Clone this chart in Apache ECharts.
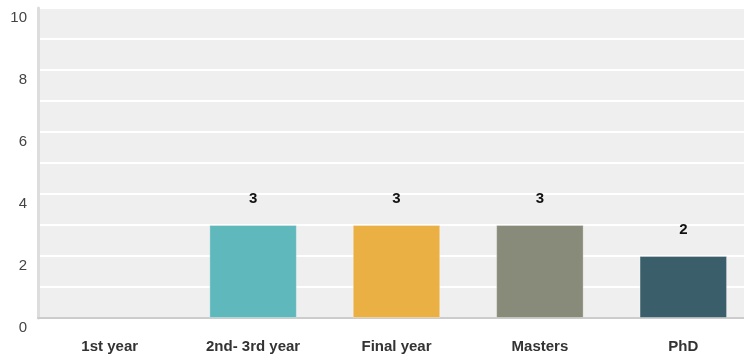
<!DOCTYPE html>
<html><head><meta charset="utf-8">
<script src="https://cdn.jsdelivr.net/npm/echarts@6/dist/echarts.min.js"></script>
<style>html,body{margin:0;padding:0;background:#fff;overflow:hidden;width:744px;height:360px}#c{width:755px;height:360px}</style>
</head><body><div id="c"></div>
<script>
var categories = ["1st year", "2nd- 3rd year", "Final year", "Masters", "PhD"];
var values = [0, 3, 3, 3, 2];
var colors = ["#5fb8bc", "#5fb8bc", "#ebb044", "#888a7a", "#3b5e6b"];
var yTicks = [0, 2, 4, 6, 8, 10];

var chart = echarts.init(document.getElementById('c'), null, {renderer: 'canvas'});
chart.setOption({
  animation: false,
  grid: {left: 38, right: 0, top: 8, bottom: 42, show: true, backgroundColor: '#efefef', borderWidth: 0},
  xAxis: {
    type: 'category', data: categories,
    axisLine: {show: true, lineStyle: {color: '#cccccc', width: 2}},
    axisTick: {show: false},
    axisLabel: {color: '#333', fontWeight: 'bold', fontSize: 15, fontFamily: 'Liberation Sans, Arial', margin: 21}
  },
  yAxis: {
    type: 'value', min: 0, max: 10, interval: 1,
    axisLine: {show: true, lineStyle: {color: '#dddddd', width: 3}},
    axisTick: {show: false},
    splitLine: {show: true, lineStyle: {color: '#ffffff', width: 2}},
    axisLabel: {
      color: '#444', fontSize: 15, fontFamily: 'Liberation Sans, Arial', margin: 11, verticalAlign: 'top', padding: [2, 0, 0, 0],
      formatter: function (v) { return yTicks.indexOf(v) >= 0 ? String(v) : ''; }
    }
  },
  series: [{
    type: 'bar',
    data: values.map(function (v, i) {
      return {value: v, itemStyle: {color: colors[i], borderWidth: v > 0 ? 1 : 0}};
    }),
    barCategoryGap: '39%',
    itemStyle: {borderColor: 'rgba(255,255,255,0.3)'},
    label: {
      show: true, position: 'top', distance: 19,
      color: '#111', fontWeight: 'bold', fontSize: 15, fontFamily: 'Liberation Sans, Arial',
      formatter: function (p) { return p.value > 0 ? String(p.value) : ''; }
    }
  }]
});
</script></body></html>
